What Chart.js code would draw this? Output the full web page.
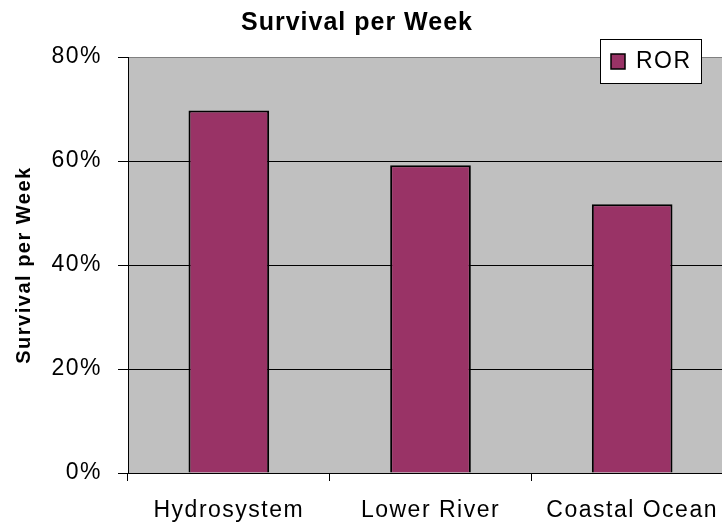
<!DOCTYPE html>
<html>
<head>
<meta charset="utf-8">
<script src="https://cdn.jsdelivr.net/npm/chart.js@4.4.3/dist/chart.umd.min.js"></script>
<style>
  html, body { margin: 0; padding: 0; background: #fff; overflow: hidden; }
  #wrap { position: relative; width: 722px; height: 527px; overflow: hidden; }
  #box { position: absolute; left: 0; top: 0; width: 740px; height: 527px; }
  #title {
    position: absolute; left: 0; top: 9px; width: 714px; text-align: center;
    font: bold 25px "Liberation Sans", Arial, sans-serif; line-height: 25px;
    letter-spacing: 1px; color: #000; z-index: 2;
  }
</style>
</head>
<body>
<div id="wrap">
  <div id="title">Survival per Week</div>
  <div id="box"><canvas id="chart" width="740" height="527"></canvas></div>
</div>
<script>
// chart data
const categories = ["Hydrosystem", "Lower River", "Coastal Ocean"];
const rorValues = [69.7, 59.2, 51.7];
const yTicks = [0, 20, 40, 60, 80];
const seriesName = "ROR";

const FONT = '"Liberation Sans", Arial, sans-serif';
const BAR_COLOR = "#993366";

// gray plot background + letter spacing like the original
const plotBg = {
  id: "plotBg",
  beforeDraw(chart) {
    const { ctx, chartArea: a } = chart;
    ctx.letterSpacing = "1.5px";
    ctx.save();
    ctx.fillStyle = "#C0C0C0";
    ctx.fillRect(a.left, a.top, a.right - a.left, a.bottom - a.top);
    ctx.restore();
  }
};

// boxed legend sitting over the top right of the plot
const boxLegend = {
  id: "boxLegend",
  afterDraw(chart) {
    const { ctx, chartArea: a } = chart;
    const ds = chart.data.datasets[0];
    const x = a.right - 133, y = a.top - 18, w = 101, h = 44;
    ctx.save();
    ctx.fillStyle = "#fff";
    ctx.fillRect(x, y, w, h);
    ctx.strokeStyle = "#000";
    ctx.lineWidth = 1;
    ctx.strokeRect(x + 0.5, y + 0.5, w, h);
    ctx.fillStyle = ds.backgroundColor;
    ctx.fillRect(x + 11, y + 15, 14, 15);
    ctx.lineWidth = 1.5;
    ctx.strokeRect(x + 11, y + 15, 14, 15);
    ctx.fillStyle = "#000";
    ctx.font = "23px " + FONT;
    ctx.textBaseline = "middle";
    ctx.textAlign = "left";
    ctx.fillText(ds.label, x + 36, y + 23);
    ctx.restore();
  }
};

new Chart(document.getElementById("chart"), {
  type: "bar",
  data: {
    labels: categories,
    datasets: [{
      label: seriesName,
      data: rorValues,
      backgroundColor: BAR_COLOR,
      borderColor: "#000",
      borderWidth: 2,
      categoryPercentage: 0.4,
      barPercentage: 1
    }]
  },
  options: {
    responsive: false,
    animation: false,
    layout: { padding: { top: 57, right: 7, bottom: 0, left: 0 } },
    plugins: { legend: { display: false }, tooltip: { enabled: false } },
    scales: {
      x: {
        afterFit(s) { s.height = 54; },
        grid: {
          offset: true, drawOnChartArea: false, color: "#000",
          tickLength: 8, lineWidth: 1
        },
        border: { color: "#000", width: 1 },
        ticks: { color: "#000", padding: 16, font: { family: FONT, size: 23 }, maxRotation: 0 }
      },
      y: {
        min: 0, max: 80,
        afterFit(s) { s.width = 128; },
        afterBuildTicks(s) { s.ticks = yTicks.map(v => ({ value: v })); },
        grid: {
          color: ctx => ctx.tick && ctx.tick.value === 80 ? "#808080" : "#000",
          tickColor: "#000", tickLength: 10, lineWidth: 1
        },
        border: { color: "#000", width: 1 },
        ticks: {
          color: "#000", padding: 16, font: { family: FONT, size: 23 },
          callback: v => v + "%"
        },
        title: {
          display: true, text: "Survival per Week", color: "#000",
          font: { family: FONT, size: 20, weight: "bold" },
          padding: { top: 12, bottom: 0 }
        }
      }
    }
  },
  plugins: [plotBg, boxLegend]
});
</script>
</body>
</html>
